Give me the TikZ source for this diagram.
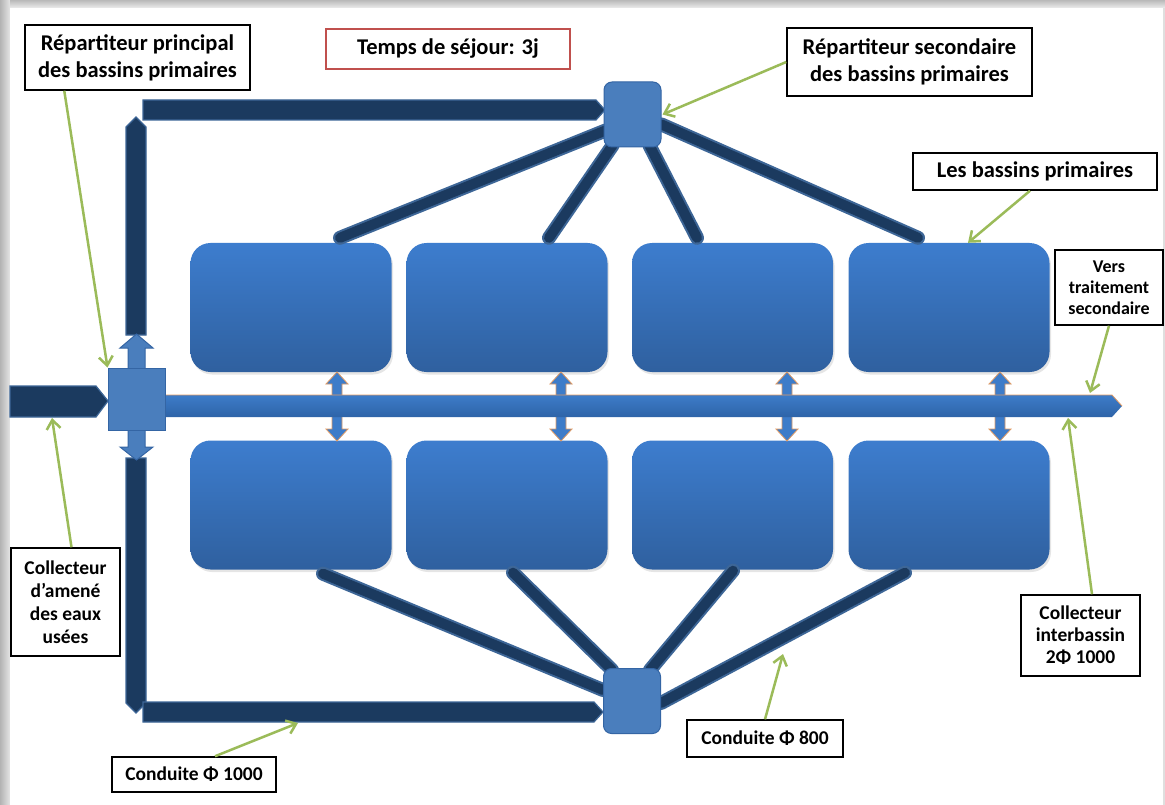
\documentclass[tikz,border=0pt]{standalone}
\usepackage{fontspec}
\setmainfont{Carlito}
\usetikzlibrary{arrows.meta,calc,shadows}
\definecolor{navy}{HTML}{1B3A5F}
\definecolor{navyedge}{HTML}{3D6697}
\definecolor{basintop}{HTML}{3D7DCE}
\definecolor{basinbot}{HTML}{2F609F}
\definecolor{distfill}{HTML}{4A7EBD}
\definecolor{distedge}{HTML}{3465A4}
\definecolor{coltop}{HTML}{3D7CC9}
\definecolor{colbot}{HTML}{2E64A8}
\definecolor{orangeedge}{HTML}{E09A63}
\definecolor{leaf}{HTML}{9BBB59}
\definecolor{redbox}{HTML}{C0504D}
\tikzset{
 basin/.style={rounded corners=20pt, minimum width=201pt, minimum height=129pt,
   top color=basintop, bottom color=basinbot, draw=none, inner sep=0pt,
   drop shadow={opacity=0.2,shadow xshift=1.5pt,shadow yshift=-2.5pt}},
 dist/.style={rounded corners=8pt, minimum width=57pt, minimum height=65pt,
   fill=distfill, draw=distedge, line width=1pt, inner sep=0pt},
 crossbox/.style={minimum width=57pt, minimum height=62pt, fill=distfill,
   draw=distedge, line width=1pt, inner sep=0pt},
 pipe/.style={fill=navy, draw=navyedge, line width=1.2pt, line join=miter},
 fanpipe/.style={draw=navyedge, line width=2pt, double=navy, double distance=10pt, line cap=round},
 dblarr/.style={fill=coltop, draw=orangeedge, line width=0.8pt},
 lbl/.style={draw=black, line width=1.5pt, fill=white, align=center, inner sep=0pt,
   font=\bfseries\fontsize{22.5}{27}\selectfont},
 small/.style={font=\bfseries\fontsize{19.5}{23}\selectfont},
 note/.style={draw=leaf, line width=2.5pt, -{Straight Barb[length=9pt,width=14pt]}},
}
\begin{document}
\begin{tikzpicture}[x=1pt,y=-1pt]
\useasboundingbox (0,0) rectangle (1165,805);
% page
\fill[gray!25] (0,0) rectangle (1165,805);
\shade[left color=gray!60, right color=gray!20] (0,0) rectangle (10,805);
\shade[top color=gray!55, bottom color=gray!15] (10,0) rectangle (1165,8);
\fill[white] (10,8) rectangle (1163,805);

% distributor positions
\coordinate (tdc) at (632.5,114.5);
\coordinate (bdc) at (632,701);
\path (tdc) node[dist,draw=none,fill=none] (tdist) {};
\path (bdc) node[dist,draw=none,fill=none] (bdist) {};

% basins
\node[basin] (t1) at (291,307.5) {};
\node[basin] (t2) at (507,307.5) {};
\node[basin] (t3) at (732.5,307.5) {};
\node[basin] (t4) at (949,307.5) {};
\node[basin] (b1) at (291,505) {};
\node[basin] (b2) at (507,505) {};
\node[basin] (b3) at (732.5,505) {};
\node[basin] (b4) at (949,505) {};

% fan pipes (top)
\draw[fanpipe] ($(tdist.south west)+(2,-17)$) -- ($(t1.north)+(49,-5)$);
\draw[fanpipe] ($(tdist.south)+(-20,-2)$) -- ($(t2.north)+(42,-5)$);
\draw[fanpipe] ($(tdist.south)+(17,-2)$) -- ($(t3.north)+(-35.5,-5)$);
\draw[fanpipe] ($(tdist.east)+(0,10)$) -- ($(t4.north)+(-31,-5)$);
% fan pipes (bottom)
\draw[fanpipe] ($(bdist.west)+(0,-11)$) -- ($(b1.south)+(32,4)$);
\draw[fanpipe] ($(bdist.north)+(-20,2)$) -- ($(b2.south)+(6,3)$);
\draw[fanpipe] ($(bdist.north)+(18,2)$) -- ($(b3.south)+(0.5,1)$);
\draw[fanpipe] ($(bdist.east)+(0,2)$) -- ($(b4.south)+(-44,3)$);

% main pipes
\draw[pipe] (143,100) -- (596,100) -- (605,110) -- (596,120) -- (143,120) -- cycle;
\draw[pipe] (126,335) -- (126,127) -- (136,117) -- (146,127) -- (146,335) -- cycle;
\draw[pipe] (126,458) -- (126,703) -- (136,713) -- (146,703) -- (146,458) -- cycle;
\draw[pipe] (143,702) -- (594,702) -- (603,712) -- (594,722) -- (143,722) -- cycle;
\draw[pipe] (10,386) -- (96,386) -- (108,401) -- (96,417) -- (10,417) -- cycle;

% distributors
\node[dist] at (tdc) {};
\node[dist] at (bdc) {};

% double arrows between basins
\foreach \cx in {337,561,787,1000}{
  \draw[dblarr] (\cx,372) -- (\cx+11,384) -- (\cx+5,384) -- (\cx+5,429) -- (\cx+11,429)
     -- (\cx,441) -- (\cx-11,429) -- (\cx-5,429) -- (\cx-5,384) -- (\cx-11,384) -- cycle;
}

% collector
\coordinate (colend) at (1122,406);
\shade[top color=coltop, bottom color=colbot] (165,395) -- (1112,395) -- (colend) -- (1112,417) -- (165,417) -- cycle;
\draw[orangeedge, line width=0.8pt] (165,395) -- (1112,395) -- (colend);

% main distributor (cross)
\draw[fill=distfill, draw=distedge, line width=1pt] (128,369) -- (128,348) -- (120,348) -- (136.5,334) -- (153,348) -- (145,348) -- (145,369) -- cycle;
\draw[fill=distfill, draw=distedge, line width=1pt] (128,429) -- (128,447) -- (120,447) -- (136.5,460) -- (153,447) -- (145,447) -- (145,429) -- cycle;
\node[crossbox] (main) at (136.5,399) {};

% labels
\node[lbl, minimum width=225pt, minimum height=65pt] (L1) at (137.5,57.5) {Répartiteur principal\\des bassins primaires};
\node[lbl, draw=redbox, line width=2pt, minimum width=244pt, minimum height=40pt] (T) at (448,49) {Temps de séjour: 3j};
\node[lbl, minimum width=245pt, minimum height=68pt] (L2) at (909.5,62) {Répartiteur secondaire\\des bassins primaires};
\node[lbl, minimum width=244pt, minimum height=37pt] (L3) at (1035,171.5) {Les bassins primaires};
\node[lbl, font=\bfseries\fontsize{18}{21}\selectfont, minimum width=108pt, minimum height=75pt] (L4) at (1109,287.5) {Vers\\traitement\\secondaire};
\node[lbl, small, minimum width=109pt, minimum height=108pt] (L5) at (65.5,602) {Collecteur\\d’amené\\des eaux\\usées};
\node[lbl, font=\bfseries\fontsize{19.5}{22}\selectfont, minimum width=119pt, minimum height=81pt] (L6) at (1080.5,635.5) {Collecteur\\interbassin\\2Φ 1000};
\node[lbl, small, minimum width=164pt, minimum height=35pt] (L7) at (194,774.5) {Conduite Φ 1000};
\node[lbl, small, minimum width=156pt, minimum height=37pt] (L8) at (765,738.5) {Conduite Φ 800};

% annotation arrows
\draw[note] ($(L1.south west)+(40,0)$) -- (main.north west);
\draw[note] (L2.west) -- ($(tdist.east)+(1,0)$);
\draw[note] ($(L3.south)+(-5,0)$) -- ($(t4.north)+(19,0)$);
\draw[note] (L4.south) -- ($(colend)+(-32,-13)$);
\draw[note] ($(L6.north)+(11.5,0)$) -- ($(colend)+(-54,12)$);
\draw[note] ($(L5.north)+(6,0)$) -- (52,418);
\draw[note] ($(L7.north)+(21,0)$) -- (298,723);
\draw[note] (L8.north) -- (783,654);
\end{tikzpicture}
\end{document}
